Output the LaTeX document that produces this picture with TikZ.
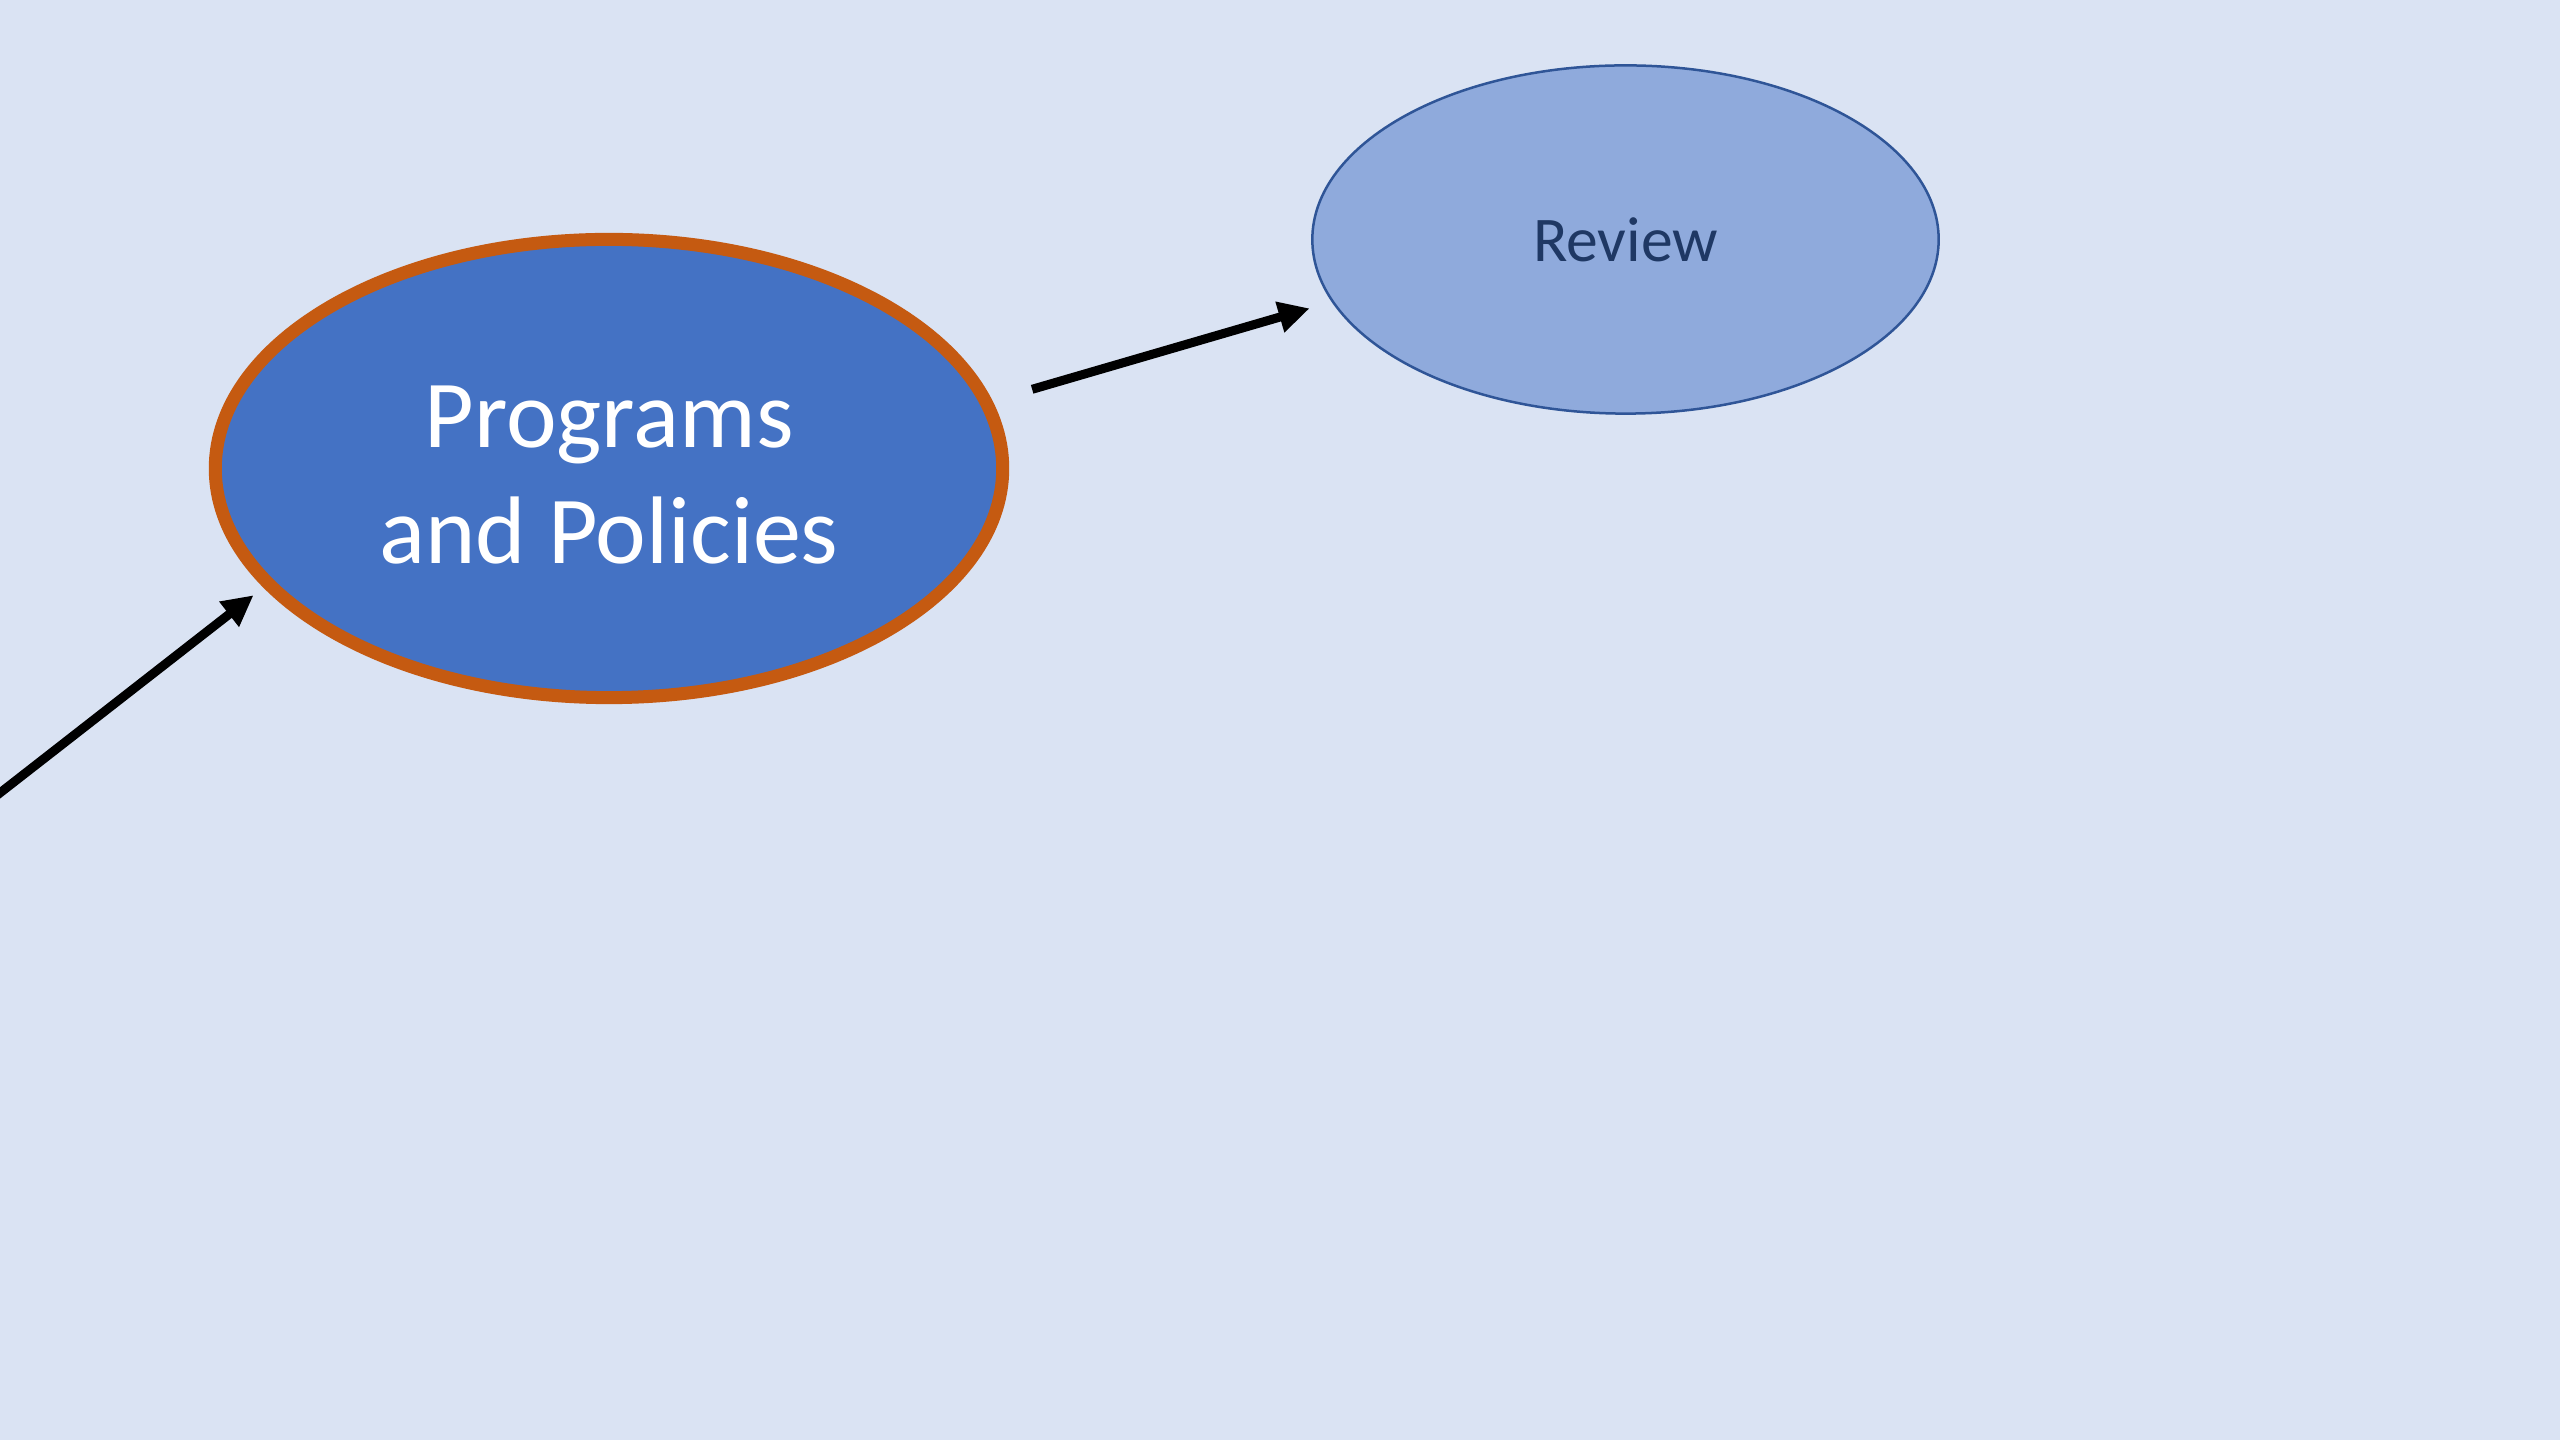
\documentclass[tikz,border=0pt]{standalone}
\usepackage{fontspec}
\setmainfont{Carlito}
\usetikzlibrary{shapes.geometric,arrows.meta}
\definecolor{bg}{HTML}{DAE3F3}
\definecolor{progfill}{HTML}{4472C4}
\definecolor{progborder}{HTML}{C55A11}
\definecolor{revfill}{HTML}{8FAADC}
\definecolor{revborder}{HTML}{2F5597}
\definecolor{revtext}{HTML}{1F3864}
\begin{document}
\begin{tikzpicture}[x=0.01cm,y=-0.01cm,
  progstyle/.style={ellipse, draw=progborder, fill=progfill, line width=0.13cm,
    minimum width=7.87cm, minimum height=4.58cm, inner sep=0pt, text=white,
    font=\fontsize{27.3}{33}\selectfont, align=center},
  revstyle/.style={ellipse, draw=revborder, fill=revfill, line width=0.025cm,
    minimum width=6.26cm, minimum height=3.48cm, inner sep=0pt, text=revtext,
    font=\fontsize{18.1}{21}\selectfont},
  conn/.style={-{Triangle[length=0.31cm,width=0.30cm]}, line width=0.09cm, black}]
\fill[bg] (0,0) rectangle (2560,1440);
\useasboundingbox (0,0) rectangle (2560,1440);
\clip (0,0) rectangle (2560,1440);
\node[progstyle] (prog) at (609,468.5) {\rule{0pt}{21pt}Programs\\and Policies};
\node[revstyle] (rev) at (1625.5,239.5) {Review};
\coordinate (in) at (-20,808.5);
\draw[conn, shorten >=0.127cm] (in) -- (prog.199.7);
\draw[conn, shorten <=0.414cm, shorten >=0.23cm] (prog.10.64) -- (rev.192.78);
\end{tikzpicture}
\end{document}
